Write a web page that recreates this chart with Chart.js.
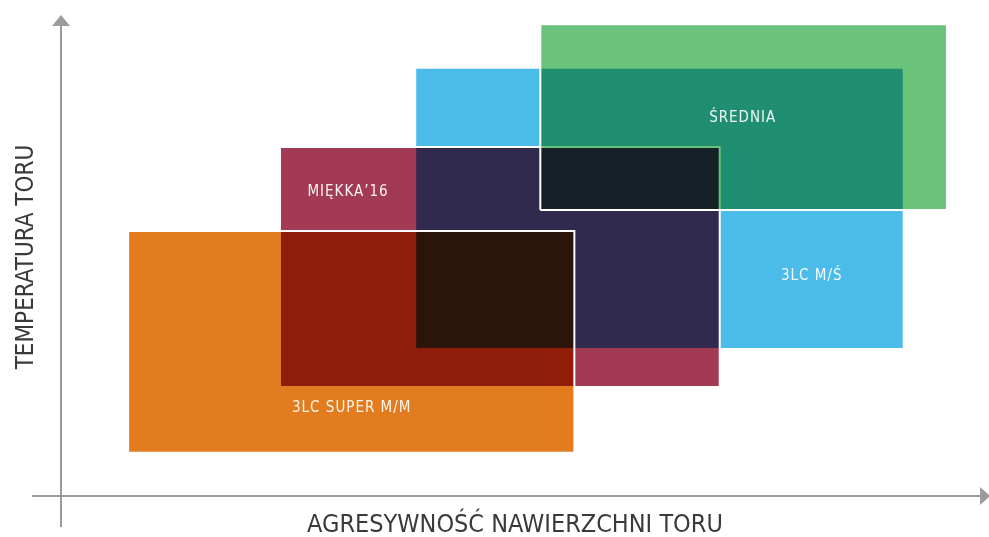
<!DOCTYPE html>
<html>
<head>
<meta charset="utf-8">
<script src="https://cdn.jsdelivr.net/npm/chart.js@4.4.1/dist/chart.umd.min.js"></script>
<style>
  html, body { margin: 0; padding: 0; background: #ffffff; }
  #wrap { width: 989px; height: 537px; position: relative; }
</style>
</head>
<body>
<div id="wrap"><canvas id="c"></canvas></div>
<script>
// ---- data (arbitrary units: x 0..100, y 0..100) ----
const categories = ['3LC SUPER M/M', 'MIĘKKA’16', '3LC M/Ś', 'ŚREDNIA'];
const xStart = [7.3, 23.8, 38.5, 52.1];
const xEnd   = [55.8, 71.6, 91.6, 96.3];
const yStart = [9.0, 22.7, 30.6, 59.6];
const yEnd   = [55.2, 72.7, 89.2, 98.3];
const labelX = [31.6, 31.2, 81.6, 74.1];
const labelY = [18.3, 63.4, 45.8, 78.8];
const colors = ['#E27C1E', '#A23A55', '#4BBBEA', '#6BC27A'];
const drawOrder = [1, 3, 4, 2]; // higher drawn first
const xTitle = 'AGRESYWNOŚĆ NAWIERZCHNI TORU';
const yTitle = 'TEMPERATURA TORU';

const datasets = categories.map((name, i) => ({
  label: name,
  data: [
    {x: xStart[i], y: yStart[i]},
    {x: xEnd[i],   y: yStart[i]},
    {x: xEnd[i],   y: yEnd[i]},
    {x: xStart[i], y: yEnd[i]},
    {x: xStart[i], y: yStart[i]}
  ],
  backgroundColor: colors[i],
  borderColor: '#ffffff',
  borderWidth: 2,
  borderJoinStyle: 'miter',
  fill: 'shape',
  tension: 0,
  pointRadius: 0,
  pointHoverRadius: 0,
  order: drawOrder[i],
  clip: false
}));

const AXIS = '#9b9b9b';
const FONT = "'DejaVu Sans Condensed', 'DejaVu Sans', sans-serif";

const blendPlugin = {
  id: 'blend',
  beforeDatasetsDraw(chart) { chart.ctx.globalCompositeOperation = 'multiply'; },
  beforeDatasetDraw(chart) { chart.ctx.globalCompositeOperation = 'source-over'; },
  afterDatasetDraw(chart) { chart.ctx.globalCompositeOperation = 'multiply'; },
  afterDatasetsDraw(chart) {
    const ctx = chart.ctx;
    ctx.globalCompositeOperation = 'source-over';
    const xs = chart.scales.x, ys = chart.scales.y;
    ctx.save();
    ctx.fillStyle = 'rgba(255,255,255,0.93)';
    ctx.font = "15px " + FONT;
    ctx.letterSpacing = '1px';
    ctx.textAlign = 'center';
    ctx.textBaseline = 'middle';
    categories.forEach((name, i) => {
      ctx.fillText(name, xs.getPixelForValue(labelX[i]), ys.getPixelForValue(labelY[i]));
    });
    ctx.restore();
  },
  beforeDraw(chart) {
    const ctx = chart.ctx;
    const a = chart.chartArea;
    ctx.save();
    ctx.strokeStyle = AXIS;
    ctx.fillStyle = AXIS;
    ctx.lineWidth = 2;
    // vertical axis
    ctx.beginPath();
    ctx.moveTo(a.left, a.top + 8);
    ctx.lineTo(a.left, a.bottom + 31);
    ctx.stroke();
    ctx.beginPath();
    ctx.moveTo(a.left, a.top - 1);
    ctx.lineTo(a.left - 9, a.top + 10);
    ctx.lineTo(a.left + 9, a.top + 10);
    ctx.closePath();
    ctx.fill();
    // horizontal axis
    ctx.beginPath();
    ctx.moveTo(a.left - 29, a.bottom);
    ctx.lineTo(a.right, a.bottom);
    ctx.stroke();
    ctx.beginPath();
    ctx.moveTo(a.right + 9, a.bottom);
    ctx.lineTo(a.right - 1, a.bottom - 9);
    ctx.lineTo(a.right - 1, a.bottom + 9);
    ctx.closePath();
    ctx.fill();
    // titles
    ctx.fillStyle = '#3a3a3a';
    ctx.textAlign = 'center';
    ctx.textBaseline = 'middle';
    ctx.font = "25px " + FONT;
    ctx.fillText(xTitle, 515, 525);
    ctx.font = "24px " + FONT;
    ctx.translate(27, 257);
    ctx.rotate(-Math.PI / 2);
    ctx.fillText(yTitle, 0, 0);
    ctx.restore();
  }
};

new Chart(document.getElementById('c'), {
  type: 'line',
  data: { datasets },
  options: {
    responsive: true,
    maintainAspectRatio: false,
    animation: false,
    layout: { padding: { left: 61, right: 8, top: 16, bottom: 41 } },
    plugins: {
      legend: { display: false },
      tooltip: { enabled: false },
      filler: { propagate: false, drawTime: 'beforeDatasetDraw' }
    },
    events: [],
    scales: {
      x: { type: 'linear', min: 0, max: 100, display: false },
      y: { type: 'linear', min: 0, max: 100, display: false }
    }
  },
  plugins: [blendPlugin]
});
</script>
</body>
</html>
